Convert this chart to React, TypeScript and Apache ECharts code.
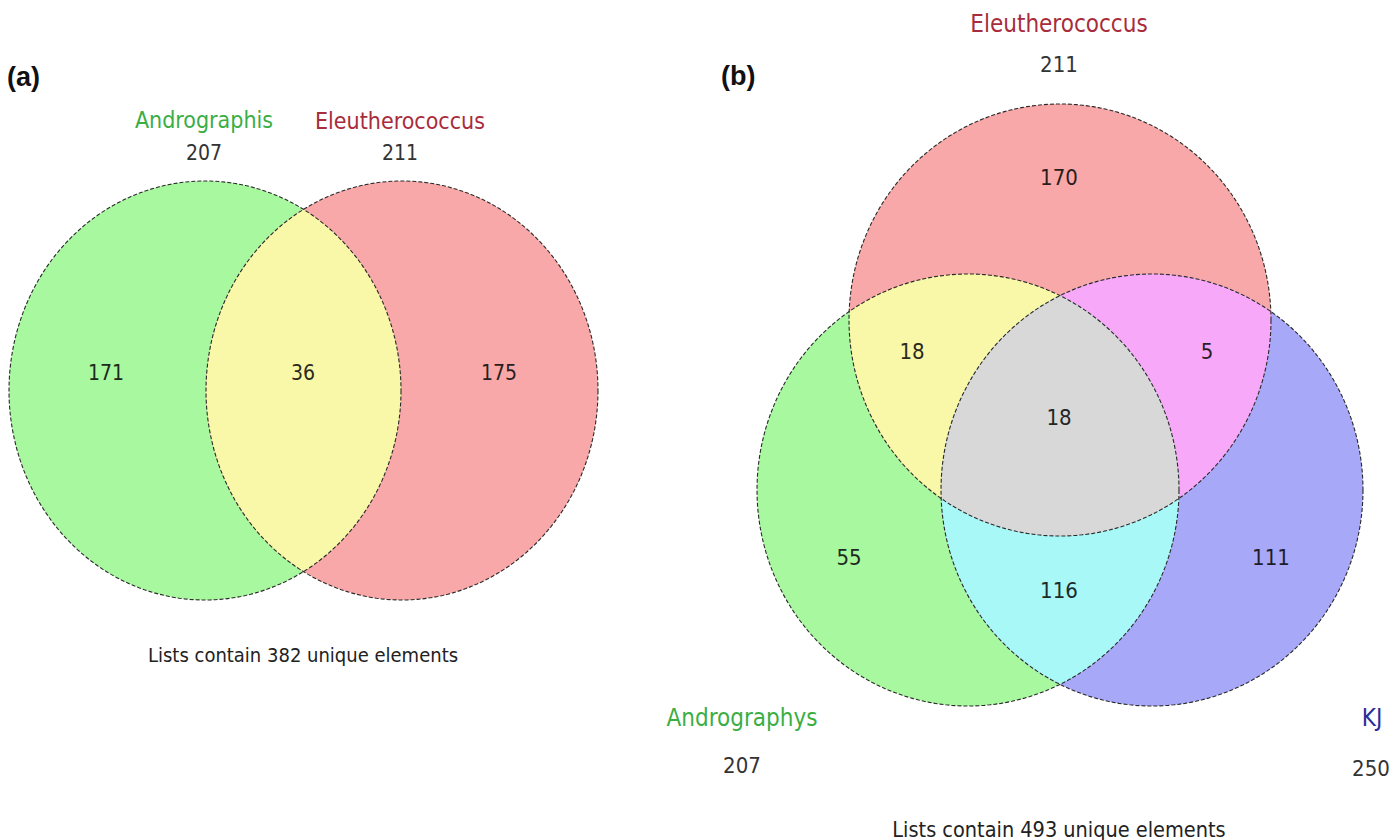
import React, { useEffect, useRef } from "react";
import * as echarts from "echarts";

// ---- Panel (a): two lists ----
const setNamesA = ["Andrographis", "Eleutherococcus"];
const setTotalsA = [207, 211];
// region membership (indexes into setNamesA) and element counts
const regionSetsA = [[0], [1], [0, 1]];
const regionCountsA = [171, 175, 36];
const uniqueA = 382;

// ---- Panel (b): three lists ----
const setNamesB = ["Andrographys", "Eleutherococcus", "KJ"];
const setTotalsB = [207, 211, 250];
const regionSetsB = [[0], [1], [2], [0, 1], [1, 2], [0, 2], [0, 1, 2]];
const regionCountsB = [55, 170, 111, 18, 5, 116, 18];
const uniqueB = 493;

type Pt = [number, number];

// ---- layout (canvas units, 1397 x 840) ----
const layoutA = {
  rx: 196,
  ry: 209.5,
  centers: [[205, 390.5], [402, 390.5]] as Pt[],
  regionLabel: [[106, 373], [499, 373], [303, 373]] as Pt[],
  setLabel: [[204, 120], [400, 121]] as Pt[],
  setTotal: [[204, 153], [400, 153]] as Pt[],
  footer: [303, 655] as Pt,
  nameSize: 23,
  numSize: 21,
  footSize: 20,
};
const layoutB = {
  rx: 211,
  ry: 216,
  centers: [[968, 490], [1060, 320], [1152, 490]] as Pt[],
  regionLabel: [[849, 557], [1059, 177], [1271, 557], [912, 351], [1207, 351], [1059, 590], [1059, 417]] as Pt[],
  setLabel: [[742, 718], [1059, 24], [1372, 718]] as Pt[],
  setTotal: [[742, 765], [1059, 64], [1371, 768]] as Pt[],
  footer: [1059, 829] as Pt,
  nameSize: 24,
  numSize: 22,
  footSize: 21.5,
};

const SET_FILL_A = ["#a8f8a0", "#f8a8a8"];
const SET_FILL_B = ["#a8f8a0", "#f8a8a8", "#a8a8f8"];
const SET_TEXT_A = ["#3aae44", "#a82c3c"];
const SET_TEXT_B = ["#3aae44", "#a82c3c", "#2c2c98"];

function regionFill(fills: string[], sets: number[], names: string[]): string {
  if (sets.length === 1) return fills[sets[0]];
  if (sets.length === 3) return "#d8d8d8";
  const key = sets.map((s) => names[s]).join("|");
  const pairColors: Record<string, string> = {
    "Andrographis|Eleutherococcus": "#f8f8a8",
    "Andrographys|Eleutherococcus": "#f8f8a8",
    "Eleutherococcus|KJ": "#f8a8f8",
    "Andrographys|KJ": "#a8f8f8",
  };
  return pairColors[key];
}

function darken(hex: string, f: number): string {
  const n = parseInt(hex.slice(1), 16);
  const r = Math.round(((n >> 16) & 255) * f);
  const g = Math.round(((n >> 8) & 255) * f);
  const b = Math.round((n & 255) * f);
  return `rgb(${r},${g},${b})`;
}

// ---- circle geometry (worked out in a space where the ellipses are circles) ----
function sampleArc(c: Pt, r: number, a0: number, a1: number, n = 120): Pt[] {
  const pts: Pt[] = [];
  for (let i = 0; i <= n; i++) {
    const t = a0 + ((a1 - a0) * i) / n;
    pts.push([c[0] + r * Math.cos(t), c[1] + r * Math.sin(t)]);
  }
  return pts;
}
function minorArc(c: Pt, r: number, p: Pt, q: Pt): Pt[] {
  const a0 = Math.atan2(p[1] - c[1], p[0] - c[0]);
  const a1 = Math.atan2(q[1] - c[1], q[0] - c[0]);
  let d = a1 - a0;
  while (d > Math.PI) d -= 2 * Math.PI;
  while (d < -Math.PI) d += 2 * Math.PI;
  return sampleArc(c, r, a0, a0 + d);
}
function intersect(c1: Pt, c2: Pt, r: number): [Pt, Pt] {
  const dx = c2[0] - c1[0];
  const dy = c2[1] - c1[1];
  const d = Math.hypot(dx, dy);
  const h = Math.sqrt(r * r - (d / 2) * (d / 2));
  const mx = c1[0] + dx / 2;
  const my = c1[1] + dy / 2;
  return [
    [mx - (h * dy) / d, my + (h * dx) / d],
    [mx + (h * dy) / d, my - (h * dx) / d],
  ];
}
function closestTo(pts: [Pt, Pt], c: Pt): Pt {
  const d0 = Math.hypot(pts[0][0] - c[0], pts[0][1] - c[1]);
  const d1 = Math.hypot(pts[1][0] - c[0], pts[1][1] - c[1]);
  return d0 < d1 ? pts[0] : pts[1];
}

function regionOutline(layout: typeof layoutA, sets: number[]): Pt[] {
  const k = layout.rx / layout.ry;
  const r = layout.rx;
  const cs: Pt[] = layout.centers.map((c) => [c[0], c[1] * k]);
  let pts: Pt[];
  if (sets.length === 1) {
    pts = sampleArc(cs[sets[0]], r, 0, Math.PI * 2, 240);
  } else if (sets.length === 2) {
    const [i, j] = sets;
    const [p, q] = intersect(cs[i], cs[j], r);
    pts = [...minorArc(cs[i], r, p, q), ...minorArc(cs[j], r, q, p)];
  } else {
    const [i, j, l] = sets;
    const vij = closestTo(intersect(cs[i], cs[j], r), cs[l]);
    const vjl = closestTo(intersect(cs[j], cs[l], r), cs[i]);
    const vli = closestTo(intersect(cs[l], cs[i], r), cs[j]);
    pts = [
      ...minorArc(cs[j], r, vij, vjl),
      ...minorArc(cs[l], r, vjl, vli),
      ...minorArc(cs[i], r, vli, vij),
    ];
  }
  return pts.map((p) => [p[0], p[1] / k] as Pt);
}

const LABEL_FONT = "'DejaVu Sans Condensed', 'DejaVu Sans', sans-serif";

function vennSeries(
  layout: typeof layoutA,
  names: string[],
  totals: number[],
  regionSets: number[][],
  counts: number[],
  unique: number,
  fills: string[],
  textColors: string[]
) {
  const regions = {
    type: "custom",
    coordinateSystem: "cartesian2d",
    silent: true,
    data: counts.map((v, i) => ({ value: [i, v] })),
    renderItem: (params: any, api: any) => {
      const i = params.dataIndex;
      const sets = regionSets[i];
      const fill = regionFill(fills, sets, names);
      const pts = regionOutline(layout, sets).map((p) => api.coord(p));
      const children: any[] = [
        { type: "polygon", shape: { points: pts }, style: { fill, stroke: "none" }, z2: 1 + sets.length },
      ];
      if (sets.length === 1) {
        children.push({
          type: "polygon",
          shape: { points: pts },
          style: { fill: "none", stroke: "#2a2a2a", lineWidth: 1.1, lineDash: [4, 2] },
          z2: 50,
        });
      }
      const lp = api.coord(layout.regionLabel[i]);
      children.push({
        type: "text",
        x: lp[0],
        y: lp[1],
        z2: 100,
        style: {
          text: String(api.value(1)),
          fontFamily: LABEL_FONT,
          fontSize: layout.numSize,
          fill: darken(fill, 0.17),
          align: "center",
          verticalAlign: "middle",
        },
      });
      return { type: "group", children };
    },
  };
  const setLabels = {
    type: "custom",
    coordinateSystem: "cartesian2d",
    silent: true,
    data: totals.map((v, i) => ({ value: [i, v] })),
    renderItem: (params: any, api: any) => {
      const i = params.dataIndex;
      const a = api.coord(layout.setLabel[i]);
      const b = api.coord(layout.setTotal[i]);
      return {
        type: "group",
        children: [
          {
            type: "text",
            x: a[0],
            y: a[1],
            style: { text: names[i], fontFamily: LABEL_FONT, fontSize: layout.nameSize, fill: textColors[i], align: "center", verticalAlign: "middle" },
          },
          {
            type: "text",
            x: b[0],
            y: b[1],
            style: { text: String(api.value(1)), fontFamily: LABEL_FONT, fontSize: layout.numSize, fill: "#333333", align: "center", verticalAlign: "middle" },
          },
        ],
      };
    },
  };
  const footer = {
    type: "custom",
    coordinateSystem: "cartesian2d",
    silent: true,
    data: [{ value: [0, unique] }],
    renderItem: (params: any, api: any) => {
      const p = api.coord(layout.footer);
      return {
        type: "text",
        x: p[0],
        y: p[1],
        style: {
          text: `Lists contain ${api.value(1)} unique elements`,
          fontFamily: LABEL_FONT,
          fontSize: layout.footSize,
          fill: "#222222",
          align: "center",
          verticalAlign: "middle",
        },
      };
    },
  };
  return [regions, setLabels, footer];
}

export default function App() {
  const ref = useRef<HTMLDivElement>(null);
  useEffect(() => {
    document.body.style.margin = "0";
    const chart = echarts.init(ref.current!, undefined, { renderer: "svg" });
    chart.setOption({
      animation: false,
      backgroundColor: "#ffffff",
      grid: { left: 0, right: 0, top: 0, bottom: 0 },
      xAxis: { type: "value", min: 0, max: 1397, show: false },
      yAxis: { type: "value", min: 0, max: 840, inverse: true, show: false },
      graphic: [
        { type: "text", left: 7, top: 63, style: { text: "(a)", fontFamily: "Liberation Sans", fontWeight: "bold", fontSize: 27, fill: "#111" } },
        { type: "text", left: 721, top: 62, style: { text: "(b)", fontFamily: "Liberation Sans", fontWeight: "bold", fontSize: 27, fill: "#111" } },
      ],
      series: [
        ...vennSeries(layoutA, setNamesA, setTotalsA, regionSetsA, regionCountsA, uniqueA, SET_FILL_A, SET_TEXT_A),
        ...vennSeries(layoutB, setNamesB, setTotalsB, regionSetsB, regionCountsB, uniqueB, SET_FILL_B, SET_TEXT_B),
      ],
    });
    return () => chart.dispose();
  }, []);
  return <div ref={ref} style={{ width: 1397, height: 840 }} />;
}
